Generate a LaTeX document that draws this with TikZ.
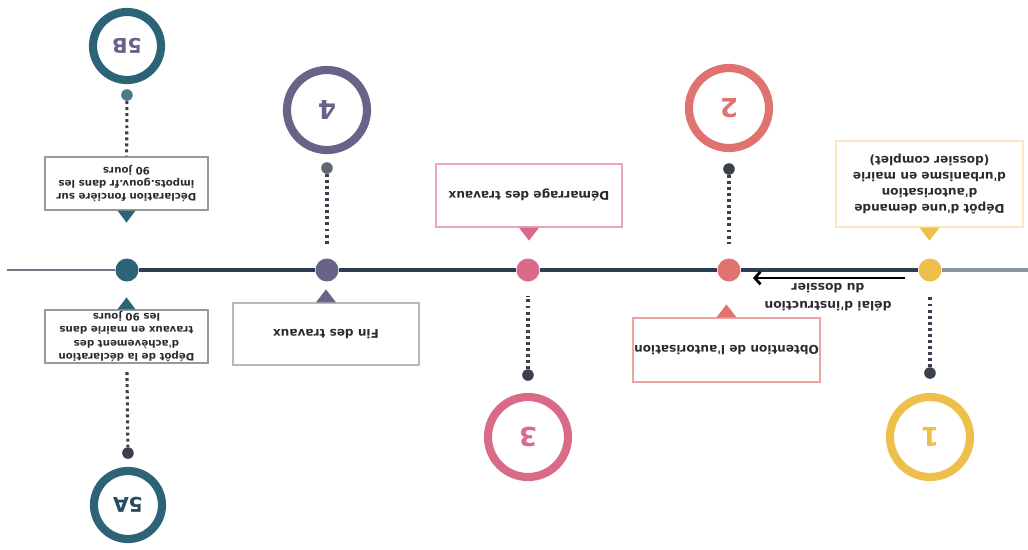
\documentclass[tikz,border=0pt]{standalone}
\usepackage{fontspec}
\newfontfamily\dejavu{DejaVu Sans}
\usetikzlibrary{arrows.meta}

\definecolor{jaune}{HTML}{EFBF4C}
\definecolor{saumon}{HTML}{E0736F}
\definecolor{rose}{HTML}{D96A88}
\definecolor{violet}{HTML}{6A6287}
\definecolor{canard}{HTML}{2D6377}
\definecolor{ardoise}{HTML}{2E3E51}
\definecolor{encre}{HTML}{3A414D}
\definecolor{texte}{HTML}{2B2B33}

\begin{document}
\begin{tikzpicture}[x=0.025cm, y=0.025cm, rotate=180, transform shape,
    etape/.style={circle, draw=#1, text=#1, line width=5.8pt, fill=white, minimum size=2cm, inner sep=0pt,
                  font=\dejavu\bfseries\fontsize{18.5}{18.5}\selectfont},
    petite etape/.style={etape=#1, minimum size=1.7cm, font=\dejavu\bfseries\fontsize{14.5}{14.5}\selectfont},
    jalon/.style={circle, fill=#1, minimum size=0.575cm, inner sep=0pt},
    puce/.style={circle, fill=#1, minimum size=0.29cm, inner sep=0pt},
    bulle/.style={draw=#1, fill=white, line width=0.9pt, inner sep=0pt, align=center, text=texte,
                  font=\dejavu\bfseries\fontsize{8.6}{11.4}\selectfont},
    petite bulle/.style={bulle=#1, minimum width=4.075cm, minimum height=1.325cm,
                  font=\dejavu\bfseries\fontsize{7.3}{9.5}\selectfont},
    axe/.style={draw=ardoise, line width=2.9pt},
    pointille/.style={draw=encre, line width=2.2pt, dash pattern=on 2.1pt off 2.2pt}]
    \useasboundingbox (0,0) rectangle (1028,549);

    % la ligne du temps
    \node[jalon=jaune] (j1) at (98,270) {};
    \node[jalon=saumon] (j2) at (299,270) {};
    \node[jalon=rose] (j3) at (500,270) {};
    \node[jalon=violet] (j4) at (701,270) {};
    \node[jalon=canard] (j5) at (901,270) {};
    \coordinate (bord gauche) at (0,270);
    \coordinate (bord droit) at (1021,270);
    \draw[axe, draw=ardoise!55, line width=2.2pt] (bord gauche) -- (j1);
    \draw[axe, draw=ardoise!70, line width=1.6pt] (j5) -- (bord droit);
    \path[axe] (j1) edge (j2) (j2) edge (j3) (j3) edge (j4) (j4) edge (j5);

    % les etapes
    \node[etape=jaune] (e1) at (98,437) {1};
    \node[etape=saumon] (e2) at (299,108) {2};
    \node[etape=rose] (e3) at (500,437) {3};
    \node[etape=violet] (e4) at (701,110) {4};
    \node[petite etape=canard, text=canard!80!black] (e5a) at (900,505) {5A};
    \node[petite etape=canard, text=violet] (e5b) at (901,46) {5B};

    \node[puce=encre] (p1) at (98,373) {};
    \node[puce=encre] (p2) at (299,169) {};
    \node[puce=encre] (p3) at (500,375) {};
    \node[puce=encre!80] (p4) at (701,168) {};
    \node[puce=encre] (p5a) at (900,453) {};
    \node[puce=canard!85] (p5b) at (901,95) {};

    % les bulles
    \node[bulle=jaune!35, minimum width=4.675cm, minimum height=2.15cm] (b1) at (98.5,184)
        {Dépôt d'une demande\\d'autorisation\\d'urbanisme en mairie\\(dossier complet)};
    \node[bulle=saumon!65, minimum width=4.675cm, minimum height=1.6cm] (b2) at (301.5,350)
        {Obtention de l'autorisation};
    \node[bulle=rose!60, minimum width=4.65cm, minimum height=1.575cm] (b3) at (499,195.5)
        {Démarrage des travaux};
    \node[bulle=black!28, minimum width=4.65cm, minimum height=1.55cm] (b4) at (702,334)
        {Fin des travaux};
    \node[petite bulle=black!40] (b5a) at (901.5,336.5)
        {Dépôt de la déclaration\\d'achèvement des\\travaux en mairie dans\\les 90 jours};
    \node[petite bulle=black!40] (b5b) at (901.5,183.5)
        {Déclaration foncière sur\\impots.gouv.fr dans les\\90 jours};

    \fill[jaune] (b1.north) ++(-10,0) -- ++(20,0) -- ++(-10,13) -- cycle;
    \fill[saumon] (b2.south) ++(-10,0) -- ++(20,0) -- ++(-10,-13) -- cycle;
    \fill[rose] (b3.north) ++(-10,0) -- ++(20,0) -- ++(-10,13) -- cycle;
    \fill[violet] (b4.south) ++(-10,0) -- ++(20,0) -- ++(-10,-13) -- cycle;
    \fill[canard] (b5b.north) ++(-9,0) -- ++(18,0) -- ++(-9,12) -- cycle;
    \fill[canard] (b5a.south) ++(-9,0) -- ++(18,0) -- ++(-9,-12) -- cycle;

    \path[pointille, shorten >=10pt]
        (p1) edge (j1)
        (p2) edge (j2)
        (p3) edge (j3)
        (p4) edge (j4);
    \path[pointille]
        (p5b) edge (b5b)
        (b5a) edge[shorten <=6pt] (p5a);

    % delai d'instruction
    \coordinate (d1) at (123,278);
    \coordinate (d2) at (275,278);
    \draw[line width=2pt, -{Straight Barb[length=4pt, width=9pt]}] (d1) -- (d2);
    \node[align=center, text=texte, font=\dejavu\bfseries\fontsize{8.8}{12.8}\selectfont] (delai) at (200,297)
        {délai d'instruction\\du dossier};
\end{tikzpicture}
\end{document}
